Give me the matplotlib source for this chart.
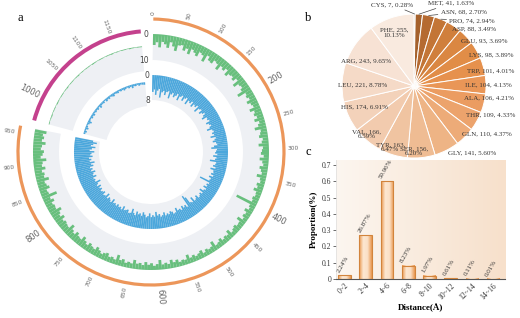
import numpy as np
import matplotlib
matplotlib.use('Agg')
import matplotlib.pyplot as plt
from matplotlib.colors import LinearSegmentedColormap

# ---------------- panel a : circos tracks ----------------
seg_a_end = 961      # orange chain 0..961
seg_b_end = 1201     # magenta chain 961..1201
bin_size = 5
ticks_a = list(range(0, 951, 50))
ticks_b = [1000, 1050, 1100, 1150]

# outer (green) track, scale 0-10, one value per 5 residues
green_a = [
    4.2, 3.1, 5.0, 2.8, 3.6, 4.8, 2.5, 3.9, 5.4, 3.0, 2.6, 4.4, 3.3, 5.1, 2.9, 3.7,
    4.6, 2.7, 3.2, 5.3, 2.4, 3.8, 4.1, 2.6, 3.0, 4.9, 2.8, 3.5, 2.3, 4.3, 3.1, 2.7,
    3.6, 2.2, 4.7, 2.9, 2.5, 3.4, 5.6, 2.6, 3.1, 2.4, 3.9, 2.8, 2.3, 4.2, 2.7, 3.3,
    2.5, 3.8, 2.2, 2.9, 4.5, 2.4, 2.8, 3.4, 2.1, 2.6, 3.9, 2.3, 2.7, 3.1, 2.0, 3.5,
    2.4, 1.9, 3.2, 2.5, 2.0, 3.7, 2.2, 1.8, 2.9, 2.3, 3.4, 2.1, 1.9, 2.6, 2.2, 8.4,
    2.3, 1.8, 3.1, 2.0, 2.5, 1.7, 3.6, 2.1, 1.9, 2.7, 2.2, 1.6, 3.3, 2.0, 2.4, 1.8,
    2.9, 2.1, 1.7, 3.8, 2.2, 1.9, 2.5, 1.6, 3.0, 2.3, 1.8, 2.6, 2.0, 3.5, 1.9, 2.2,
    1.7, 2.8, 2.1, 3.2, 1.8, 2.4, 1.9, 3.7, 2.2, 1.6, 2.6, 2.0, 3.0, 1.8, 2.5, 2.1,
    3.4, 1.9, 2.3, 1.7, 2.8, 2.2, 3.9, 1.8, 2.4, 2.0, 3.1, 2.6, 1.9, 2.7, 3.5, 2.2,
    2.6, 3.3, 2.1, 2.9, 4.0, 2.4, 2.7, 3.6, 2.3, 3.0, 4.4, 2.5, 2.8, 3.2, 2.6, 3.9,
    2.7, 3.4, 4.6, 2.9, 3.1, 2.6, 3.8, 2.8, 5.9, 3.0, 2.7, 4.1, 3.3, 2.9, 4.8, 3.2,
    3.6, 2.8, 4.3, 3.1, 3.5, 5.0, 2.9, 3.7, 4.2, 3.0, 3.4, 4.7, 3.2, 3.9, 3.3, 4.5,
]
green_b = [
    0.3, 0.2, 0.3, 0.4, 0.2, 0.3, 0.3, 0.2, 0.4, 0.3, 0.2, 0.3, 0.3, 0.2, 0.3, 0.4,
    0.2, 0.3, 0.3, 0.2, 0.3, 0.4, 0.2, 0.3, 0.2, 0.3, 0.3, 0.2, 0.4, 0.3, 0.2, 0.3,
    0.3, 0.2, 0.3, 0.3, 0.4, 0.2, 0.3, 0.2, 0.3, 0.3, 0.2, 0.4, 0.3, 0.2, 0.3, 0.3,
]
# inner (blue) track, scale 0-8
blue_a = [
    5.4, 4.6, 6.3, 4.9, 4.3, 7.0, 5.2, 4.7, 5.9, 4.8, 4.4, 6.6, 5.1, 4.5, 5.7, 5.0,
    4.2, 6.1, 4.6, 4.0, 5.5, 4.4, 3.9, 5.8, 4.3, 4.7, 3.8, 5.3, 4.1, 4.5, 3.7, 5.6,
    4.0, 3.6, 4.9, 4.2, 3.5, 4.4, 5.2, 3.7, 3.9, 3.4, 4.8, 4.1, 3.6, 4.3, 5.4, 3.8,
    3.5, 4.2, 3.7, 5.0, 3.4, 3.9, 4.6, 3.6, 3.3, 4.4, 5.3, 3.5, 3.8, 4.1, 3.4, 4.7,
    3.6, 4.0, 5.6, 3.5, 3.7, 4.3, 3.4, 4.9, 3.8, 3.6, 4.2, 3.3, 4.5, 3.7, 3.9, 7.0,
    3.5, 4.1, 3.7, 4.6, 3.4, 3.9, 5.0, 3.6, 4.3, 3.8, 3.5, 4.7, 4.0, 3.7, 5.3, 3.8,
    4.2, 6.4, 7.3, 3.6, 4.5, 4.0, 4.8, 3.7, 4.3, 4.1, 5.1, 3.8, 3.6, 4.4, 4.7, 3.9,
    4.3, 3.8, 4.9, 4.1, 3.7, 4.6, 4.2, 5.4, 3.9, 4.4, 3.8, 5.0, 4.1, 3.7, 4.5, 5.2,
    4.0, 4.7, 4.3, 5.1, 3.8, 4.4, 5.6, 4.1, 3.9, 4.8, 4.5, 4.2, 5.3, 4.0, 4.6, 4.3,
    4.9, 4.2, 4.7, 4.4, 5.5, 4.1, 4.6, 5.0, 4.3, 5.7, 4.5, 4.2, 5.2, 4.7, 4.4, 5.1,
    4.6, 5.4, 4.3, 4.9, 6.1, 4.5, 4.8, 4.4, 5.6, 4.7, 5.0, 5.8, 4.6, 5.2, 4.5, 5.7,
    5.1, 6.3, 4.8, 5.4, 4.7, 5.9, 5.2, 5.6, 6.5, 5.0, 5.7, 6.8, 5.3, 6.0, 7.1, 5.8,
]
blue_b = [
    0.6, 0.9, 0.5, 1.1, 0.7, 0.4, 0.8, 1.3, 0.6, 0.5, 0.9, 0.7, 1.0, 0.5, 0.8, 0.6,
    0.9, 0.5, 1.2, 0.7, 0.6, 0.8, 0.4, 1.0, 0.7, 0.9, 0.5, 0.8, 1.1, 0.6, 0.7, 0.9,
    0.5, 0.8, 0.6, 1.0, 0.7, 0.5, 0.9, 0.6, 1.2, 0.7, 0.8, 0.5, 0.9, 0.6, 0.7, 0.8,
]

# ---------------- panel b : residue composition ----------------
residues = ['CYS', 'MET', 'ASN', 'PRO', 'ASP', 'GLU', 'LYS', 'TRP', 'ILE', 'ALA',
            'THR', 'GLN', 'GLY', 'SER', 'TYR', 'VAL', 'HIS', 'LEU', 'ARG', 'PHE']
counts = [7, 41, 68, 74, 88, 93, 98, 101, 104, 106,
          109, 110, 141, 156, 163, 166, 174, 221, 243, 255]

# ---------------- panel c : distance distribution ----------------
dist_labels = ['0~2', '2~4', '4~6', '6~8', '8~10', '10~12', '12~14', '14~16']
proportions = [0.0224, 0.2687, 0.5996, 0.0823, 0.0197, 0.0061, 0.0011, 0.0001]

serif = ['Liberation Serif', 'DejaVu Serif']
fig = plt.figure(figsize=(5.2, 3.18), dpi=100)

# ======== a ========
DEG = 0.2918
GAP = 3.7


def theta_a(p):
    return np.deg2rad(1.0 + p * DEG)


def theta_b(p):
    return np.deg2rad(1.0 + p * DEG + GAP)


ax = fig.add_axes([0.0019, 0.0503, 0.5769, 0.9434], projection='polar')
ax.set_theta_zero_location('N')
ax.set_theta_direction(-1)
ax.set_ylim(0, 150)
ax.axis('off')

band = '#eef0f4'
# per segment: theta range, ring colour, ring radius, ring width, green (out, in), blue (out, in), label r
segs = [
    (theta_a(0), theta_a(seg_a_end), '#ec965a', 133, 3.2, (118, 92), (77, 52), 137),
    (theta_b(seg_a_end), theta_b(seg_b_end), '#c4418d', 121, 4.0, (106, 81), (70, 46), 125),
]
tracks = [
    ([theta_a(p) for p in range(0, seg_a_end - 1, bin_size)], green_a, blue_a),
    ([theta_b(seg_a_end + i * bin_size) for i in range(len(green_b))], green_b, blue_b),
]
w = np.deg2rad(bin_size * DEG)
for (t0, t1, col, rr, rw, (g_out, g_in), (b_out, b_in), _), (th, gv, bv) in zip(segs, tracks):
    mid = (t0 + t1) / 2
    ax.bar(mid, g_out - g_in, width=t1 - t0, bottom=g_in, color=band, linewidth=0)
    ax.bar(mid, b_out - b_in, width=t1 - t0, bottom=b_in, color=band, linewidth=0)
    ax.bar(mid, rw, width=t1 - t0, bottom=rr - rw / 2, color=col, linewidth=0)
    gl = np.array(gv) / 10 * (g_out - g_in)
    ax.bar(th, gl, width=w, bottom=g_out - gl, align='edge', color='#68bf7d', linewidth=0)
    bl = np.array(bv) / 8 * (b_out - b_in)
    ax.bar(th, bl, width=w, bottom=b_out - bl, align='edge', color='#4ba7dc', linewidth=0)

for ticks, tfun, rl in [(ticks_a, theta_a, segs[0][-1]), (ticks_b, theta_b, segs[1][-1])]:
    for p in ticks:
        th = tfun(p)
        deg = np.rad2deg(th)
        major = p % 200 == 0 and p > 0
        if deg <= 180:
            rot, ha = 90 - deg, 'left'
        else:
            rot, ha = 270 - deg, 'right'
        ax.text(th, rl, str(p), rotation=rot, rotation_mode='anchor', ha=ha, va='center',
                fontsize=6 if major else 4.3, color='#666666')

for r, s in [(118, '0'), (92, '10'), (77, '0'), (52, '8')]:
    ax.text(np.deg2rad(-1.2), r, s, ha='right', va='center', fontsize=5.5, color='#444444')

# ======== b ========
pie_colors = ['#8f5224', '#a5612c', '#b56a31', '#c37536', '#d07f3c', '#da8742', '#e18d47',
              '#e6914d', '#e99657', '#eb9c61', '#eca36c', '#edab78', '#eeb485', '#efbc93',
              '#f0c4a1', '#f2cbae', '#f3d2ba', '#f5dac7', '#f7e2d4', '#f9eadf']
pax = fig.add_axes([0.6577, 0.5031, 0.2769, 0.4528])
wedges, _ = pax.pie(counts, colors=pie_colors, startangle=90, counterclock=False, radius=1,
                    wedgeprops=dict(edgecolor='white', linewidth=0.7))
pax.set_xlim(-1, 1)
pax.set_ylim(-1, 1)
total = sum(counts)
labels = [f'{n}, {c}, {c / total * 100:.2f}%' for n, c in zip(residues, counts)]

# right-hand labels: left edge at radius r along the wedge middle
place = {
    'ASP': 0.95, 'GLU': 0.9, 'LYS': 0.88, 'TRP': 0.77, 'ILE': 0.71, 'ALA': 0.71,
    'THR': 0.83, 'GLN': 0.94, 'GLY': 1.04,
}
# left-hand labels sit inside the wedges (centre position)
inside = {'SER': (0.0, -0.91), 'TYR': (-0.33, -0.85), 'VAL': (-0.66, -0.67),
          'HIS': (-0.685, -0.29), 'LEU': (-0.71, 0.01), 'ARG': (-0.66, 0.35),
          'PHE': (-0.27, 0.74)}
two_line = {'SER', 'TYR', 'VAL', 'PHE'}
leader = {'CYS': (-0.01, 1.13, 'right'), 'MET': (0.2, 1.15, 'left'),
          'ASN': (0.37, 1.03, 'left'), 'PRO': (0.49, 0.91, 'left')}
tkw = dict(fontsize=5, family=serif, color='#333333')
for wdg, name, lab in zip(wedges, residues, labels):
    ang = np.deg2rad((wdg.theta1 + wdg.theta2) / 2)
    ca, sa = np.cos(ang), np.sin(ang)
    if name in leader:
        tx, ty, ha = leader[name]
        pax.annotate(lab, xy=(ca, sa), xytext=(tx, ty), ha=ha, va='center',
                     arrowprops=dict(arrowstyle='-', color='#444444', lw=0.5,
                                     shrinkA=0, shrinkB=0), **tkw)
    elif name in place:
        r = place[name]
        pax.text(r * ca, r * sa, lab, ha='left', va='center', **tkw)
    else:
        tx, ty = inside[name]
        txt = lab.replace(', ', ',\n', 2).replace(',\n', ', ', 1) if name in two_line else lab
        pax.text(tx, ty, txt, ha='center', va='center', linespacing=0.95, **tkw)

# ======== c ========
cax = fig.add_axes([0.646, 0.1226, 0.325, 0.3742])
xlim = (-0.4, 7.55)
ylim = (0, 0.73)
bg_cmap = LinearSegmentedColormap.from_list('bg', ['#fcf6f0', '#f7e0cb'])
cax.imshow(np.linspace(0, 1, 256)[None, :], extent=[xlim[0], xlim[1], ylim[0], ylim[1]],
           aspect='auto', cmap=bg_cmap, zorder=0)
bar_cmap = LinearSegmentedColormap.from_list('bar', ['#e9974f', '#fde8d2', '#fbe0c6', '#e9974f'])
x = np.arange(len(dist_labels))
bw = 0.6
for xi, v in zip(x, proportions):
    cax.imshow(np.linspace(0, 1, 64)[None, :], extent=[xi - bw / 2, xi + bw / 2, 0, v],
               aspect='auto', cmap=bar_cmap, zorder=2)
cax.bar(x, proportions, width=bw, facecolor='none', edgecolor='#d2843c', linewidth=0.8, zorder=3)
for xi, v in zip(x, proportions):
    cax.text(xi - 0.2, v + 0.012, f'{v * 100:.2f}%', rotation=60, rotation_mode='anchor',
             ha='left', va='bottom', fontsize=5, family=serif, color='#333333', zorder=4)
cax.set_xlim(*xlim)
cax.set_ylim(*ylim)
cax.set_xticks(x)
cax.set_xticklabels(dist_labels, rotation=45, ha='right', rotation_mode='anchor',
                    fontsize=5.5, family=serif)
cax.set_yticks([0, 0.1, 0.2, 0.3, 0.4, 0.5, 0.6, 0.7])
cax.set_yticklabels(['0', '0.1', '0.2', '0.3', '0.4', '0.5', '0.6', '0.7'], fontsize=5.5, family=serif)
cax.tick_params(axis='both', length=2, width=0.5, pad=1.5, colors='#333333')
cax.tick_params(axis='x', length=0, pad=2)
for s in ['top', 'right']:
    cax.spines[s].set_visible(False)
cax.spines['left'].set_color('#dddddd')
cax.spines['left'].set_linewidth(0.5)
cax.spines['bottom'].set_color('#555555')
cax.spines['bottom'].set_linewidth(0.8)
cax.set_xlabel('Distance(Å)', fontsize=6.5, fontweight='bold', family=serif, labelpad=2)
cax.set_ylabel('Proportion(%)', fontsize=6.5, fontweight='bold', family=serif, labelpad=3)

# panel letters
for lx, ly, s in [(20, 18, 'a'), (308, 18, 'b'), (308, 152, 'c')]:
    fig.text(lx / 520, 1 - ly / 318, s, fontsize=9, family=serif, ha='center', va='center')

fig.savefig('out.png', dpi=100)
